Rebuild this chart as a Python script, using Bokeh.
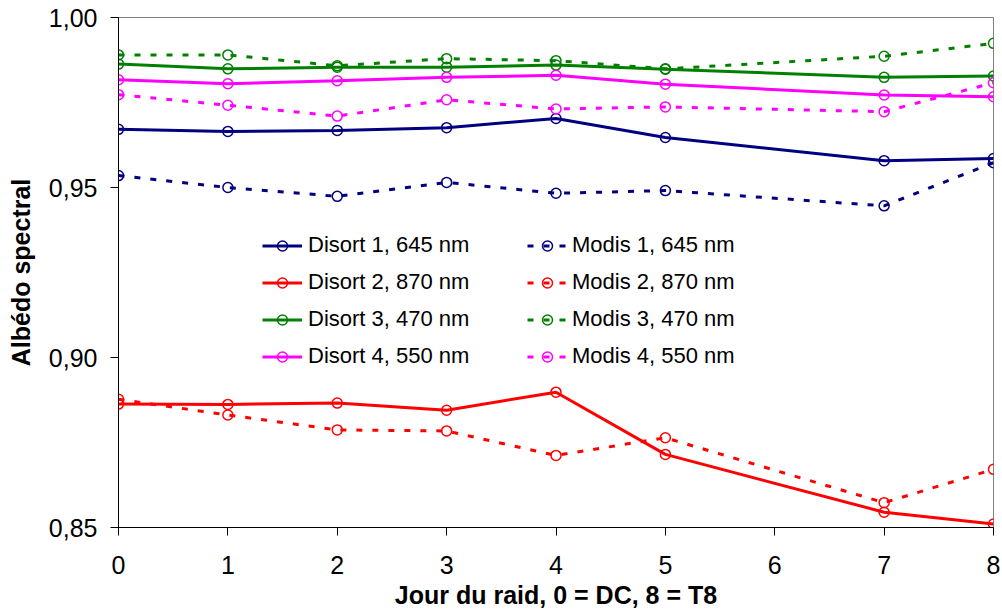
from bokeh.plotting import figure
from bokeh.models import (Legend, LegendItem, FixedTicker, CustomJSTickFormatter, Range1d)
from bokeh.embed import file_html
from bokeh.resources import INLINE

days = [0, 1, 2, 3, 4, 5, 7, 8]

disort1 = [0.9671, 0.9665, 0.9668, 0.9676, 0.9703, 0.9647, 0.9579, 0.9585]
disort2 = [0.8863, 0.8862, 0.8866, 0.8845, 0.8898, 0.8715, 0.8545, 0.8510]
disort3 = [0.9863, 0.9849, 0.9854, 0.9854, 0.9860, 0.9848, 0.9824, 0.9828]
disort4 = [0.9817, 0.9805, 0.9814, 0.9824, 0.9830, 0.9804, 0.9772, 0.9767]

modis1 = [0.9535, 0.9500, 0.9474, 0.9515, 0.9483, 0.9491, 0.9446, 0.9573]
modis2 = [0.8877, 0.8831, 0.8787, 0.8784, 0.8712, 0.8764, 0.8573, 0.8671]
modis3 = [0.9890, 0.9890, 0.9858, 0.9879, 0.9873, 0.9849, 0.9886, 0.9924]
modis4 = [0.9773, 0.9742, 0.9710, 0.9758, 0.9731, 0.9737, 0.9723, 0.9808]

disort_labels = ["Disort 1, 645 nm", "Disort 2, 870 nm", "Disort 3, 470 nm", "Disort 4, 550 nm"]
modis_labels = ["Modis 1, 645 nm", "Modis 2, 870 nm", "Modis 3, 470 nm", "Modis 4, 550 nm"]
colors = ["#000080", "#FF0000", "#008000", "#FF00FF"]

x_ticks = [0, 1, 2, 3, 4, 5, 6, 7, 8]
y_ticks = [0.85, 0.90, 0.95, 1.00]

FONT = "Liberation Sans"

p = figure(width=1000, height=612, output_backend="svg", toolbar_location=None,
           x_range=Range1d(0, 8), y_range=Range1d(0.85, 1.00),
           min_border_left=118, min_border_right=7, min_border_top=17, min_border_bottom=85)
p.xgrid.visible = False
p.ygrid.visible = False
p.outline_line_color = "#808080"
p.outline_line_width = 1
p.background_fill_color = "white"
p.border_fill_color = "white"

for ax in (p.xaxis[0], p.yaxis[0]):
    ax.axis_line_color = "black"
    ax.axis_line_width = 1
    ax.major_tick_line_color = "black"
    ax.major_tick_in = 0
    ax.major_tick_out = 8
    ax.minor_tick_line_color = None
    ax.major_label_text_font = FONT
    ax.major_label_text_font_size = "25px"
    ax.major_label_text_color = "black"
    ax.axis_label_text_font = FONT
    ax.axis_label_text_font_size = "25px"
    ax.axis_label_text_font_style = "bold"
    ax.axis_label_text_color = "black"

p.xaxis.ticker = FixedTicker(ticks=x_ticks)
p.yaxis.ticker = FixedTicker(ticks=y_ticks)
p.yaxis.formatter = CustomJSTickFormatter(code="return tick.toFixed(2).replace('.', ',');")
p.xaxis.axis_label = "Jour du raid, 0 = DC, 8 = T8"
p.yaxis.axis_label = "Albédo spectral"
p.xaxis.major_label_standoff = 20
p.yaxis.major_label_standoff = 13
p.xaxis.axis_label_standoff = 4
p.yaxis.axis_label_standoff = 11

def add_series(vals, color, dash):
    ln = p.line(days, vals, line_color=color, line_width=3, line_dash=dash)
    sc = p.scatter(days, vals, marker="circle", size=10, line_color=color,
                   line_width=1.5, fill_alpha=0)
    return [ln, sc]

items1, items2 = [], []
for vals, c, lab in zip([disort1, disort2, disort3, disort4], colors, disort_labels):
    items1.append(LegendItem(label=lab, renderers=add_series(vals, c, "solid")))
for vals, c, lab in zip([modis1, modis2, modis3, modis4], colors, modis_labels):
    items2.append(LegendItem(label=lab, renderers=add_series(vals, c, "6 10")))

for items, loc, stand in ((items1, (144, 158), 6), (items2, (409, 158), 5)):
    lg = Legend(items=items, location=loc, orientation="vertical",
                label_text_font=FONT, label_text_font_size="22px", label_text_color="black",
                glyph_width=40, glyph_height=25, label_height=25, label_standoff=stand,
                spacing=11, padding=0, margin=0,
                border_line_color=None, background_fill_alpha=0)
    p.add_layout(lg, "center")

open("out.html", "w").write(file_html(p, INLINE))
